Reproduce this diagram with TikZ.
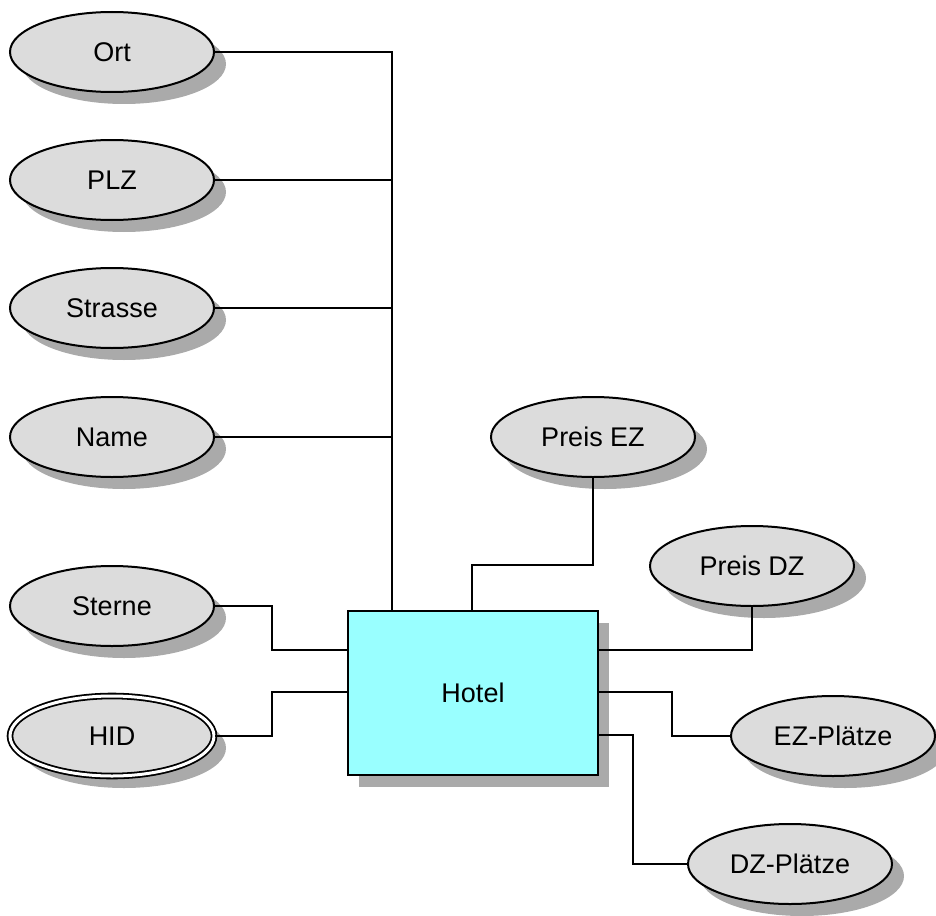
\documentclass[tikz,border=0pt]{standalone}
\usepackage{fontspec}
\setmainfont{Liberation Sans}
\usetikzlibrary{shapes.geometric,shadows}
\definecolor{attrfill}{HTML}{DCDCDC}
\definecolor{shadowgray}{HTML}{AAAAAA}
\definecolor{entfill}{HTML}{99FFFF}
\begin{document}
\begin{tikzpicture}[x=1pt,y=-1pt,
  attr/.style={ellipse,draw=black,line width=2pt,fill=attrfill,minimum width=204pt,minimum height=80pt,inner sep=0pt,
    font=\fontsize{27}{32}\selectfont,
    drop shadow={shadow xshift=12pt,shadow yshift=-12pt,fill=shadowgray,opacity=1}},
  keyattr/.style={attr,double=white,double distance=3pt,line width=1.8pt},
  entity/.style={rectangle,draw=black,line width=2pt,fill=entfill,minimum width=250pt,minimum height=164pt,inner sep=0pt,
    font=\fontsize{27}{32}\selectfont,
    drop shadow={shadow xshift=11pt,shadow yshift=-12pt,fill=shadowgray,opacity=1}},
  conn/.style={draw=black,line width=2pt}]
\useasboundingbox (0,0) rectangle (936,915);
\node[attr] (ort) at (112,52) {Ort};
\node[attr] (plz) at (112,180) {PLZ};
\node[attr] (strasse) at (112,308) {Strasse};
\node[attr] (name) at (112,437) {Name};
\node[attr] (sterne) at (112,606) {Sterne};
\node[keyattr] (hid) at (112,736) {HID};
\node[attr] (preisez) at (593,437) {Preis EZ};
\node[attr] (preisdz) at (752,566) {Preis DZ};
\node[attr] (ezpl) at (833,736) {EZ-Plätze};
\node[attr] (dzpl) at (790,864) {DZ-Plätze};
\node[entity] (hotel) at (473,693) {Hotel};
\coordinate (vt) at (392,52);
\coordinate (pz) at (472,565);
\coordinate (lx) at (272,650);
\coordinate (ly) at (348,692);
\coordinate (r1) at (598,650);
\coordinate (r2) at (598,692);
\coordinate (r3) at (598,735);
\coordinate (ex) at (672,692);
\coordinate (dx) at (633,735);
\draw[conn] (ort.east) -- (vt) -- (vt |- hotel.north);
\draw[conn] (plz.east) -- (plz.east -| vt);
\draw[conn] (strasse.east) -- (strasse.east -| vt);
\draw[conn] (name.east) -- (name.east -| vt);
\draw[conn] (preisez.south) -- (preisez.south |- pz) -- (pz) -- (pz |- hotel.north);
\draw[conn] (sterne.east) -- (sterne.east -| lx) -- (lx) -- (lx -| hotel.west);
\draw[conn] (hid.east) -- (hid.east -| lx) -- (lx |- ly) -- (ly);
\draw[conn] (preisdz.south) -- (preisdz.south |- r1) -- (r1);
\draw[conn] (r2) -- (ex) -- (ex |- ezpl.west) -- (ezpl.west);
\draw[conn] (r3) -- (dx) -- (dx |- dzpl.west) -- (dzpl.west);
\end{tikzpicture}
\end{document}
